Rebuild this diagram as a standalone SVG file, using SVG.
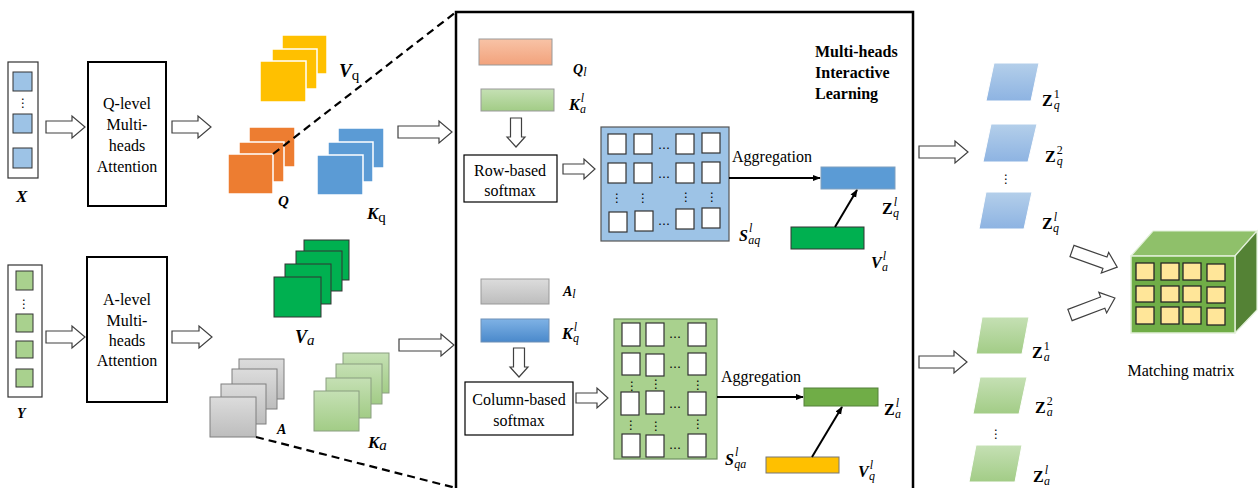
<svg xmlns="http://www.w3.org/2000/svg" width="1258" height="488" viewBox="0 0 1258 488">
<style>
text{font-family:"Liberation Serif","Times New Roman",serif;fill:#000}
.t{font-size:16px}
.tc{font-size:16px;text-anchor:middle}
.tb{font-size:16px;font-weight:bold}
.mi{font-size:16px;font-weight:bold;font-style:italic}
.mz{font-size:16px;font-weight:bold}
.s{font-size:12px;font-weight:normal;font-style:italic}
.su{font-size:12px;font-weight:normal;font-style:normal}
.dots{font-family:"DejaVu Sans",sans-serif;font-size:12px;text-anchor:middle}
.hol{fill:#fff;stroke:#404040;stroke-width:1.2}
.box{fill:#fff;stroke:#000;stroke-width:2}
.sbox{fill:#fff;stroke:#000;stroke-width:1.2}
.cell{fill:#fff;stroke:#333;stroke-width:1.2}
.ycell{fill:#FFE699;stroke:#262626;stroke-width:1.3}
.yel{fill:#FFC000;stroke:#fff;stroke-width:1.5}
.org{fill:#ED7D31;stroke:#fff;stroke-width:1.5}
.blu{fill:#5B9BD5;stroke:#fff;stroke-width:1.5}
.grn{fill:#00B050;stroke:#333;stroke-width:1}
.gry{fill:url(#gGray);stroke:#7F7F7F;stroke-width:1}
.lgr{fill:url(#gLGreen);stroke:#8A9E80;stroke-width:1}
.dash{stroke:#000;stroke-width:2.2;stroke-dasharray:8,5;fill:none}
.con{stroke:#000;stroke-width:2;fill:none;marker-end:url(#ah)}
.xin{fill:#fff;stroke:#333;stroke-width:1.2}
.bsq{fill:#9DC3E6;stroke:#333;stroke-width:1}
.gsq{fill:#A9D18E;stroke:#333;stroke-width:1}
</style>
<defs>
<linearGradient id="gSalmon" x1="0" y1="0" x2="0" y2="1"><stop offset="0" stop-color="#F8C3A6"/><stop offset="1" stop-color="#F2A27C"/></linearGradient>
<linearGradient id="gLGreen" x1="0" y1="0" x2="0" y2="1"><stop offset="0" stop-color="#C5E0B4"/><stop offset="1" stop-color="#A2CC86"/></linearGradient>
<linearGradient id="gGray" x1="0" y1="0" x2="0" y2="1"><stop offset="0" stop-color="#DCDCDC"/><stop offset="1" stop-color="#BDBDBD"/></linearGradient>
<linearGradient id="gBlue" x1="0" y1="0" x2="0" y2="1"><stop offset="0" stop-color="#7FB2E5"/><stop offset="1" stop-color="#4A89CB"/></linearGradient>
<linearGradient id="gLBlue" x1="0" y1="0" x2="0" y2="1"><stop offset="0" stop-color="#B4CFEA"/><stop offset="1" stop-color="#8DB3E2"/></linearGradient>
<marker id="ah" viewBox="0 0 10 10" refX="9" refY="5" markerWidth="4" markerHeight="4" orient="auto" markerUnits="strokeWidth"><path d="M0,1 L10,5 L0,9 Z" fill="#000"/></marker>
</defs>

<!-- Input X -->
<g id="input-x">
<rect x="8" y="62" width="30" height="116" class="xin"/>
<rect x="13" y="72" width="19" height="19" class="bsq"/>
<text x="23" y="107" class="dots">⋮</text>
<rect x="13" y="114" width="19" height="19" class="bsq"/>
<rect x="13" y="148" width="19" height="20" class="bsq"/>
<text x="16" y="202" class="mi" style="font-size:17px">X</text>
</g>
<!-- Input Y -->
<g id="input-y">
<rect x="8" y="265" width="34" height="132" class="xin"/>
<rect x="16" y="271" width="17" height="19" class="gsq"/>
<text x="24" y="308" class="dots">⋮</text>
<rect x="16" y="314" width="17" height="18" class="gsq"/>
<rect x="16" y="341" width="17" height="17" class="gsq"/>
<rect x="16" y="369" width="17" height="18" class="gsq"/>
<text x="17" y="418" class="mi" style="font-size:14px">Y</text>
</g>
<!-- Q-level attention -->
<g id="q-level">
<rect x="88" y="62" width="78" height="144" class="box"/>
<text x="127" y="109" class="tc">Q-level</text>
<text x="127" y="130" class="tc">Multi-</text>
<text x="127" y="151" class="tc">heads</text>
<text x="127" y="172" class="tc">Attention</text>
</g>
<!-- A-level attention -->
<g id="a-level">
<rect x="87" y="257" width="80" height="145" class="box"/>
<text x="127" y="305" class="tc">A-level</text>
<text x="127" y="326" class="tc">Multi-</text>
<text x="127" y="346" class="tc">heads</text>
<text x="127" y="366" class="tc">Attention</text>
</g>
<!-- V_q stack -->
<g id="vq-stack">
<rect x="282" y="35" width="45" height="39" class="yel"/>
<rect x="272" y="49" width="45" height="40" class="yel"/>
<rect x="260" y="61" width="46" height="41" class="yel"/>
<text x="339" y="77" class="mi" style="font-size:19px">V<tspan class="su" style="font-size:15px" dy="3">q</tspan></text>
</g>
<!-- Q stack -->
<g id="q-stack">
<rect x="249" y="127" width="46" height="40" class="org"/>
<rect x="239" y="142" width="45" height="40" class="org"/>
<rect x="228" y="154" width="45" height="40" class="org"/>
<text x="278" y="206" class="mi" style="font-size:15px">Q</text>
</g>
<!-- K_q stack -->
<g id="kq-stack">
<rect x="338" y="128" width="46" height="40" class="blu"/>
<rect x="328" y="142" width="45" height="40" class="blu"/>
<rect x="317" y="155" width="46" height="40" class="blu"/>
<text x="367" y="219" class="mi" style="font-size:17px">K<tspan class="su" style="font-size:15px" dy="3">q</tspan></text>
</g>
<!-- V_a stack -->
<g id="va-stack">
<rect x="304" y="240" width="45" height="40" class="grn"/>
<rect x="296" y="251" width="46" height="40" class="grn"/>
<rect x="285" y="264" width="46" height="40" class="grn"/>
<rect x="274" y="277" width="47" height="40" class="grn"/>
<text x="295" y="343" class="mi" style="font-size:18px">V<tspan class="s" style="font-size:15px" dy="2">a</tspan></text>
</g>
<!-- A stack -->
<g id="a-stack">
<rect x="239" y="359" width="45" height="40" class="gry"/>
<rect x="232" y="369" width="45" height="40" class="gry"/>
<rect x="221" y="384" width="45" height="40" class="gry"/>
<rect x="210" y="397" width="46" height="40" class="gry"/>
<text x="277" y="434" class="mi" style="font-size:14px">A</text>
</g>
<!-- K_a stack -->
<g id="ka-stack">
<rect x="343" y="353" width="46" height="40" class="lgr"/>
<rect x="336" y="364" width="46" height="40" class="lgr"/>
<rect x="326" y="378" width="45" height="40" class="lgr"/>
<rect x="314" y="391" width="45" height="40" class="lgr"/>
<text x="368" y="448" class="mi" style="font-size:17px">K<tspan class="s" style="font-size:15px" dy="2">a</tspan></text>
</g>

<!-- Multi-heads Interactive Learning panel -->
<g id="mhil-panel">
<rect x="456" y="12" width="457" height="490" fill="none" stroke="#000" stroke-width="2.5"/>
<text x="815" y="57" class="tb">Multi-heads</text>
<text x="815" y="78" class="tb">Interactive</text>
<text x="815" y="99" class="tb">Learning</text>
</g>
<g id="ql">
<rect x="479" y="39" width="73" height="26" fill="url(#gSalmon)" stroke="#999" stroke-width="1"/>
<text x="573" y="74" class="mi" style="font-size:14px">Q<tspan class="s" dy="2">l</tspan></text>
</g>
<g id="kal">
<rect x="481" y="89" width="73" height="22" fill="url(#gLGreen)" stroke="#999" stroke-width="1"/>
<text x="569" y="110" class="mi">K<tspan class="s" dx="1" dy="-8">l</tspan><tspan class="s" dx="-4" dy="11">a</tspan></text>
</g>
<g id="row-softmax">
<rect x="464" y="155" width="93" height="47" class="sbox"/>
<text x="510" y="176" class="tc">Row-based</text>
<text x="510" y="196" class="tc">softmax</text>
</g>
<g id="s-aq">
<rect x="601" y="127" width="128" height="114" fill="#9DC3E6" stroke="#555" stroke-width="1.2"/>
<rect x="608" y="134" width="18" height="20" class="cell"/>
<rect x="634" y="134" width="18" height="20" class="cell"/>
<text x="664" y="149" class="dots">…</text>
<rect x="676" y="134" width="18" height="20" class="cell"/>
<rect x="702" y="133" width="18" height="20" class="cell"/>
<rect x="608" y="163" width="18" height="20" class="cell"/>
<rect x="634" y="163" width="18" height="20" class="cell"/>
<text x="664" y="178" class="dots">…</text>
<rect x="676" y="163" width="18" height="20" class="cell"/>
<rect x="702" y="162" width="18" height="21" class="cell"/>
<text x="617" y="202" class="dots">⋮</text>
<text x="643" y="202" class="dots">⋮</text>
<text x="686" y="201" class="dots">⋮</text>
<text x="712" y="201" class="dots">⋮</text>
<rect x="609" y="212" width="18" height="20" class="cell"/>
<rect x="635" y="211" width="18" height="20" class="cell"/>
<text x="664" y="225" class="dots">…</text>
<rect x="676" y="209" width="18" height="20" class="cell"/>
<rect x="702" y="208" width="18" height="20" class="cell"/>
<text x="739" y="241" class="mi">S<tspan class="s" dx="1" dy="-9">l</tspan><tspan class="s" dx="-4" dy="12">aq</tspan></text>
</g>
<g id="zql">
<rect x="821" y="167" width="74" height="22" fill="#5B9BD5" stroke="#7F9FC0" stroke-width="1"/>
<text x="882" y="214" class="mz">Z<tspan class="s" dx="1" dy="-8">l</tspan><tspan class="s" dx="-4" dy="11">q</tspan></text>
</g>
<g id="val">
<rect x="791" y="227" width="73" height="22" fill="#00B050" stroke="#333" stroke-width="1"/>
<text x="871" y="268" class="mi">V<tspan class="s" dx="1" dy="-8">l</tspan><tspan class="s" dx="-4" dy="11">a</tspan></text>
</g>
<text x="732" y="162" class="t">Aggregation</text>

<g id="al">
<rect x="481" y="279" width="68" height="25" fill="url(#gGray)" stroke="#999" stroke-width="1"/>
<text x="563" y="296" class="mi" style="font-size:14px">A<tspan class="s" dy="2">l</tspan></text>
</g>
<g id="kql">
<rect x="481" y="319" width="68" height="23" fill="url(#gBlue)" stroke="#6E8FB5" stroke-width="1"/>
<text x="562" y="339" class="mi">K<tspan class="s" dx="1" dy="-8">l</tspan><tspan class="s" dx="-4" dy="11">q</tspan></text>
</g>
<g id="col-softmax">
<rect x="465" y="382" width="108" height="53" class="sbox"/>
<text x="519" y="405" class="tc">Column-based</text>
<text x="519" y="426" class="tc">softmax</text>
</g>
<g id="s-qa">
<rect x="614" y="319" width="103" height="140" fill="#A9D18E" stroke="#6F8F60" stroke-width="1.2"/>
<rect x="622" y="323" width="18" height="23" class="cell"/>
<rect x="646" y="323" width="18" height="23" class="cell"/>
<text x="675" y="338" class="dots">…</text>
<rect x="688" y="323" width="18" height="23" class="cell"/>
<rect x="622" y="353" width="18" height="22" class="cell"/>
<rect x="646" y="354" width="18" height="22" class="cell"/>
<text x="675" y="368" class="dots">…</text>
<rect x="688" y="353" width="18" height="22" class="cell"/>
<text x="632" y="390" class="dots">⋮</text>
<text x="656" y="388" class="dots">⋮</text>
<text x="698" y="389" class="dots">⋮</text>
<rect x="621" y="392" width="18" height="23" class="cell"/>
<rect x="646" y="391" width="18" height="23" class="cell"/>
<text x="675" y="408" class="dots">…</text>
<rect x="688" y="392" width="18" height="23" class="cell"/>
<text x="631" y="429" class="dots">⋮</text>
<text x="656" y="430" class="dots">⋮</text>
<text x="698" y="428" class="dots">⋮</text>
<rect x="622" y="434" width="18" height="23" class="cell"/>
<rect x="646" y="435" width="18" height="22" class="cell"/>
<text x="675" y="449" class="dots">…</text>
<rect x="688" y="434" width="18" height="23" class="cell"/>
<text x="725" y="465" class="mi">S<tspan class="s" dx="1" dy="-9">l</tspan><tspan class="s" dx="-4" dy="12">qa</tspan></text>
</g>
<g id="zal">
<rect x="804" y="388" width="74" height="18" fill="#70AD47" stroke="#55803A" stroke-width="1"/>
<text x="884" y="415" class="mz">Z<tspan class="s" dx="1" dy="-8">l</tspan><tspan class="s" dx="-4" dy="11">a</tspan></text>
</g>
<g id="vql">
<rect x="766" y="457" width="73" height="16" fill="#FFC000" stroke="#777" stroke-width="1"/>
<text x="858" y="477" class="mi">V<tspan class="s" dx="1" dy="-8">l</tspan><tspan class="s" dx="-4" dy="11">q</tspan></text>
</g>
<text x="721" y="382" class="t">Aggregation</text>

<!-- Z_q heads -->
<g id="zq-heads">
<path d="M994,63 L1039,63 L1031,101 L986,101 Z" fill="url(#gLBlue)" stroke="#fff"/>
<text x="1042" y="106" class="mz">Z<tspan class="su" dx="1" dy="-8">1</tspan><tspan class="s" dx="-6" dy="11">q</tspan></text>
<path d="M991,124 L1037,124 L1028,162 L983,162 Z" fill="url(#gLBlue)" stroke="#fff"/>
<text x="1045" y="162" class="mz">Z<tspan class="su" dx="1" dy="-8">2</tspan><tspan class="s" dx="-6" dy="11">q</tspan></text>
<text x="1006" y="183" class="dots">⋮</text>
<path d="M986,192 L1032,192 L1024,229 L979,229 Z" fill="url(#gLBlue)" stroke="#fff"/>
<text x="1042" y="229" class="mz">Z<tspan class="s" dx="1" dy="-8">l</tspan><tspan class="s" dx="-4" dy="11">q</tspan></text>
</g>
<!-- Z_a heads -->
<g id="za-heads">
<path d="M982,317 L1029,317 L1022,354 L976,354 Z" fill="url(#gLGreen)" stroke="#fff"/>
<text x="1032" y="358" class="mz">Z<tspan class="su" dx="1" dy="-8">1</tspan><tspan class="s" dx="-6" dy="11">a</tspan></text>
<path d="M980,377 L1027,377 L1019,414 L973,414 Z" fill="url(#gLGreen)" stroke="#fff"/>
<text x="1035" y="413" class="mz">Z<tspan class="su" dx="1" dy="-8">2</tspan><tspan class="s" dx="-6" dy="11">a</tspan></text>
<text x="996" y="438" class="dots">⋮</text>
<path d="M976,445 L1022,445 L1015,482 L969,482 Z" fill="url(#gLGreen)" stroke="#fff"/>
<text x="1033" y="482" class="mz">Z<tspan class="s" dx="1" dy="-8">l</tspan><tspan class="s" dx="-4" dy="11">a</tspan></text>
</g>
<!-- Matching matrix cube -->
<g id="matching-matrix">
<polygon points="1131,256 1153,231 1257,231 1235,256" fill="#8FC06A" stroke="#E2F0D9" stroke-width="1.2"/>
<polygon points="1235,256 1257,231 1257,310 1235,333" fill="#548235" stroke="#E2F0D9" stroke-width="1.2"/>
<rect x="1131" y="256" width="104" height="77" fill="#70AD47" stroke="#E2F0D9" stroke-width="1.5"/>
<rect x="1136" y="263" width="18" height="17" class="ycell"/>
<rect x="1161" y="263" width="18" height="17" class="ycell"/>
<rect x="1183" y="263" width="18" height="17" class="ycell"/>
<rect x="1207" y="264" width="18" height="17" class="ycell"/>
<rect x="1136" y="286" width="18" height="16" class="ycell"/>
<rect x="1161" y="286" width="18" height="16" class="ycell"/>
<rect x="1183" y="286" width="18" height="16" class="ycell"/>
<rect x="1207" y="287" width="18" height="16" class="ycell"/>
<rect x="1136" y="307" width="18" height="17" class="ycell"/>
<rect x="1161" y="307" width="18" height="17" class="ycell"/>
<rect x="1183" y="307" width="18" height="17" class="ycell"/>
<rect x="1207" y="308" width="18" height="17" class="ycell"/>
<text x="1181" y="376" class="tc">Matching matrix</text>
</g>

<!-- Connectors -->
<g id="connectors">
<line x1="273" y1="154" x2="456" y2="12" class="dash"/>
<line x1="256" y1="437" x2="456" y2="488" class="dash"/>
<path d="M46,121 H72 V116 L85,127 L72,138 V133 H46 Z" class="hol"/>
<path d="M172,121 H198 V116 L211,127 L198,138 V133 H172 Z" class="hol"/>
<path d="M46,331 H72 V326 L85,337 L72,348 V343 H46 Z" class="hol"/>
<path d="M172,331 H199 V326 L212,337 L199,348 V343 H172 Z" class="hol"/>
<path d="M398,126 H439 V121 L452,132 L439,143 V138 H398 Z" class="hol"/>
<path d="M399,339 H441 V334 L454,345 L441,356 V351 H399 Z" class="hol"/>
<path d="M563,164 H584 V159 L595,169 L584,179 V174 H563 Z" class="hol"/>
<path d="M576,393 H597 V388 L608,398 L597,408 V403 H576 Z" class="hol"/>
<path d="M510.5,118 V137 H507 L516,147 L525,137 H521.5 V118 Z" class="hol"/>
<path d="M513.5,348 V367 H510 L519,377 L528,367 H524.5 V348 Z" class="hol"/>
<path d="M919,146 H955 V141 L968,152 L955,163 V158 H919 Z" class="hol"/>
<path d="M919,356 H954 V351 L967,362 L954,373 V368 H919 Z" class="hol"/>
<path d="M0,-6 H35 V-11 L48,0 L35,11 V6 H0 Z" class="hol" transform="translate(1072,251) rotate(19.6)"/>
<path d="M0,-6 H35 V-11 L48,0 L35,11 V6 H0 Z" class="hol" transform="translate(1070,315) rotate(-20.7)"/>
<line x1="729" y1="178" x2="820" y2="178" class="con"/>
<line x1="835" y1="227" x2="857" y2="190" class="con"/>
<line x1="717" y1="397" x2="803" y2="397" class="con"/>
<line x1="812" y1="457" x2="842" y2="407" class="con"/>
</g>
</svg>
